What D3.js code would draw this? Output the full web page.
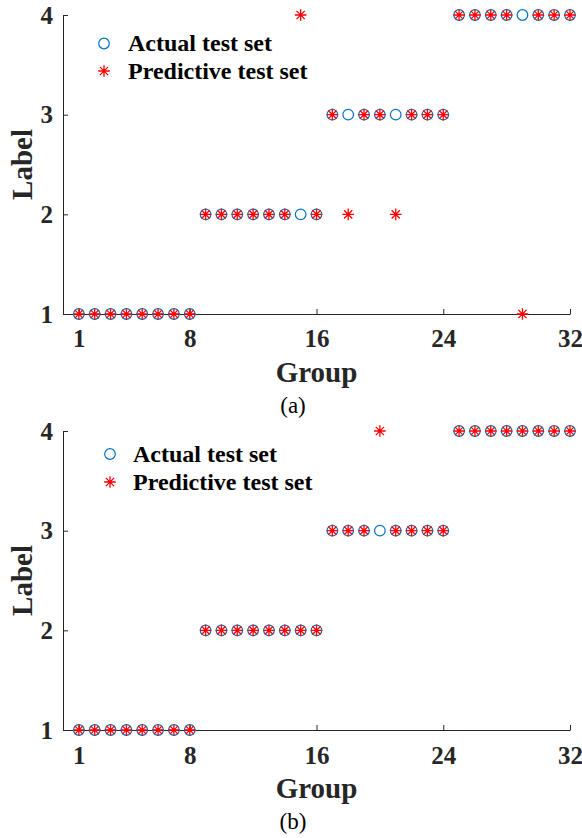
<!DOCTYPE html>
<html>
<head>
<meta charset="utf-8">
<script src="https://cdn.jsdelivr.net/npm/d3@7"></script>
<style>
  html, body { margin: 0; padding: 0; background: #fff; }
  #chart { width: 582px; height: 838px; }
</style>
</head>
<body>
<div id="chart"></div>
<script>
// --- Data ---
var groups = [1, 2, 3, 4, 5, 6, 7, 8, 9, 10, 11, 12, 13, 14, 15, 16,
              17, 18, 19, 20, 21, 22, 23, 24, 25, 26, 27, 28, 29, 30, 31, 32];
var actualLabels = [1, 1, 1, 1, 1, 1, 1, 1, 2, 2, 2, 2, 2, 2, 2, 2,
                    3, 3, 3, 3, 3, 3, 3, 3, 4, 4, 4, 4, 4, 4, 4, 4];
// panel (a)
var predictedA = [1, 1, 1, 1, 1, 1, 1, 1, 2, 2, 2, 2, 2, 2, 4, 2,
                  3, 2, 3, 3, 2, 3, 3, 3, 4, 4, 4, 4, 1, 4, 4, 4];
// panel (b)
var predictedB = [1, 1, 1, 1, 1, 1, 1, 1, 2, 2, 2, 2, 2, 2, 2, 2,
                  3, 3, 3, 4, 3, 3, 3, 3, 4, 4, 4, 4, 4, 4, 4, 4];
var xTicks = [1, 8, 16, 24, 32];
var yTicks = [1, 2, 3, 4];
var legendLabels = ['Actual test set', 'Predictive test set'];

(function () {
  'use strict';

  var W = 582, H = 838;
  var axisColor = '#262626';
  var blue = '#0072BD';
  var red = '#FF0000';
  var serif = '"Liberation Serif", "Times New Roman", serif';

  var svg = d3.select('#chart').append('svg')
    .attr('width', W).attr('height', H)
    .attr('viewBox', '0 0 ' + W + ' ' + H);

  // Panel layout (pixel frames of each plot area)
  var panels = [
    { pred: predictedA, top: 15, bottom: 314, tag: '(a)',
      legend: { x: 104, y: 43.5, textX: 128, gap: 27.5 },
      tickBase: 347, titleBase: 382, tagBase: 413 },
    { pred: predictedB, top: 431, bottom: 730, tag: '(b)',
      legend: { x: 110, y: 454, textX: 133, gap: 28 },
      tickBase: 764, titleBase: 798, tagBase: 829 }
  ];

  var left = 63, right = 570;

  // asterisk marker: + and x overlaid
  function starPath(r) {
    var d = r * Math.SQRT1_2;
    return 'M' + (-r) + ',0L' + r + ',0' +
           'M0,' + (-r) + 'L0,' + r +
           'M' + (-d) + ',' + (-d) + 'L' + d + ',' + d +
           'M' + (-d) + ',' + d + 'L' + d + ',' + (-d);
  }

  panels.forEach(function (p) {
    var x = d3.scaleLinear().domain([0, 32]).range([left, right]);
    var y = d3.scaleLinear().domain([1, 4]).range([p.bottom, p.top]);

    var g = svg.append('g');

    // --- Axes ---
    var xAxis = g.append('g')
      .attr('transform', 'translate(0,' + p.bottom + ')')
      .call(d3.axisBottom(x).tickValues(xTicks).tickSize(-5).tickSizeOuter(0));
    var yAxis = g.append('g')
      .attr('transform', 'translate(' + left + ',0)')
      .call(d3.axisLeft(y).tickValues(yTicks).tickFormat(d3.format('d')).tickSize(-5).tickSizeOuter(0));

    [xAxis, yAxis].forEach(function (a) {
      a.select('.domain').attr('stroke', axisColor).attr('stroke-width', 1);
      a.selectAll('.tick line').attr('stroke', axisColor).attr('stroke-width', 1);
      a.selectAll('.tick text')
        .attr('fill', axisColor)
        .attr('font-family', serif)
        .attr('font-weight', 'bold')
        .attr('font-size', '25px');
    });
    xAxis.selectAll('.tick text')
      .attr('y', p.tickBase - p.bottom)
      .attr('dy', null);
    yAxis.selectAll('.tick text')
      .attr('x', -10)
      .attr('dy', '0.33em');

    // --- Axis titles ---
    g.append('text')
      .attr('x', (left + right) / 2)
      .attr('y', p.titleBase)
      .attr('text-anchor', 'middle')
      .attr('font-family', serif).attr('font-weight', 'bold')
      .attr('font-size', '29px').attr('fill', axisColor)
      .text('Group');

    g.append('text')
      .attr('transform', 'translate(32,' + ((p.top + p.bottom) / 2) + ') rotate(-90)')
      .attr('text-anchor', 'middle')
      .attr('font-family', serif).attr('font-weight', 'bold')
      .attr('font-size', '29px').attr('fill', axisColor)
      .text('Label');

    g.append('text')
      .attr('x', 293)
      .attr('y', p.tagBase)
      .attr('text-anchor', 'middle')
      .attr('font-family', serif)
      .attr('font-size', '23px').attr('fill', '#000')
      .text(p.tag);

    // --- Markers ---
    g.append('g').selectAll('circle')
      .data(groups)
      .join('circle')
      .attr('cx', function (d) { return x(d); })
      .attr('cy', function (d, i) { return y(actualLabels[i]); })
      .attr('r', 5.3)
      .attr('fill', 'none')
      .attr('stroke', blue)
      .attr('stroke-width', 1.2);

    g.append('g').selectAll('path')
      .data(groups)
      .join('path')
      .attr('transform', function (d, i) { return 'translate(' + x(d) + ',' + y(p.pred[i]) + ')'; })
      .attr('d', starPath(5.8))
      .attr('fill', 'none')
      .attr('stroke', red)
      .attr('stroke-width', 1.3);

    // --- Legend ---
    var lg = g.append('g');
    lg.append('circle')
      .attr('cx', p.legend.x).attr('cy', p.legend.y)
      .attr('r', 5.3).attr('fill', 'none')
      .attr('stroke', blue).attr('stroke-width', 1.2);
    lg.append('path')
      .attr('transform', 'translate(' + p.legend.x + ',' + (p.legend.y + p.legend.gap) + ')')
      .attr('d', starPath(5.8))
      .attr('fill', 'none').attr('stroke', red).attr('stroke-width', 1.3);
    lg.selectAll('text')
      .data(legendLabels)
      .join('text')
      .attr('x', p.legend.textX)
      .attr('y', function (d, i) { return p.legend.y + i * p.legend.gap; })
      .attr('dy', '0.33em')
      .attr('font-family', serif).attr('font-weight', 'bold')
      .attr('font-size', '24px').attr('fill', '#000')
      .text(function (d) { return d; });
  });
})();
</script>
</body>
</html>
